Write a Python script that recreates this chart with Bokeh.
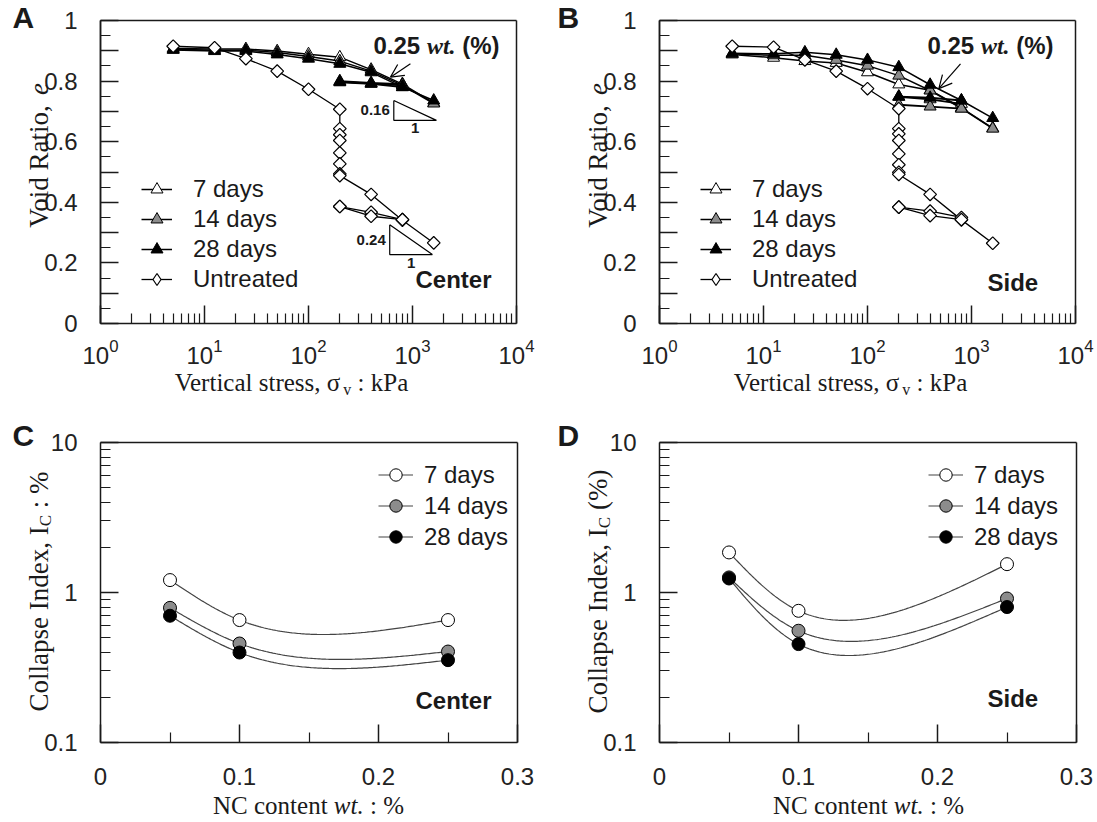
import math
import numpy as np
from bokeh.plotting import figure
from bokeh.models import (FixedTicker, Legend, LegendItem, Label, Arrow, OpenHead,
                          CustomJSTickFormatter, LinearAxis)
from bokeh.layouts import row, column
from bokeh.embed import file_html
from bokeh.resources import INLINE

# ---------------- data ----------------
stress = [5, 12.5, 25, 50, 100, 200, 400, 800, 1600]
stress_soaked = [200, 400, 800]
untreated_stress = [5, 12.5, 25, 50, 100, 200, 200, 200, 200, 200, 200, 200, 200, 400, 800, 1600]
untreated_stress_b = [200, 400, 800]

center_untreated = [0.915, 0.910, 0.874, 0.833, 0.773, 0.707, 0.643, 0.623, 0.604, 0.563,
                    0.527, 0.494, 0.488, 0.426, 0.341, 0.266]
center_untreated_b1 = [0.386, 0.367, 0.343]
center_untreated_b2 = [0.386, 0.354, 0.343]
center_7d = [0.908, 0.906, 0.906, 0.899, 0.889, 0.879, 0.838, 0.790, 0.728]
center_7d_soaked = [0.800, 0.794, 0.790]
center_14d = [0.905, 0.902, 0.902, 0.894, 0.881, 0.866, 0.833, 0.786, 0.726]
center_14d_soaked = [0.798, 0.792, 0.786]
center_28d = [0.903, 0.899, 0.899, 0.888, 0.874, 0.857, 0.829, 0.780, 0.736]
center_28d_soaked = [0.796, 0.791, 0.780]

side_untreated = [0.915, 0.912, 0.870, 0.833, 0.775, 0.709, 0.643, 0.626, 0.604, 0.560,
                  0.524, 0.499, 0.492, 0.426, 0.342, 0.265]
side_untreated_b1 = [0.384, 0.371, 0.350]
side_untreated_b2 = [0.384, 0.356, 0.343]
side_7d = [0.888, 0.877, 0.866, 0.860, 0.829, 0.789, 0.770, 0.712, 0.645]
side_7d_soaked = [0.748, 0.740, 0.725]
side_14d = [0.890, 0.885, 0.885, 0.870, 0.851, 0.818, 0.769, 0.710, 0.643]
side_14d_soaked = [0.722, 0.716, 0.709]
side_28d = [0.892, 0.890, 0.895, 0.887, 0.870, 0.846, 0.788, 0.736, 0.678]
side_28d_soaked = [0.749, 0.745, 0.736]

nc_content = [0.05, 0.10, 0.25]
ic_center_7d = [1.21, 0.655, 0.655]
ic_center_14d = [0.79, 0.457, 0.404]
ic_center_28d = [0.70, 0.398, 0.354]
ic_side_7d = [1.85, 0.755, 1.545]
ic_side_14d = [1.26, 0.556, 0.912]
ic_side_28d = [1.24, 0.453, 0.80]

slope_values = [0.16, 0.24]
series_labels = ["7 days", "14 days", "28 days"]
x_ticks_log = [1, 10, 100, 1000, 10000]
x_ticks_nc = [0, 0.1, 0.2, 0.3]

# ---------------- styling helpers ----------------
SANS = "Liberation Sans"
SERIF = "Liberation Serif"
INK = "#1a1a1a"
FILLS = ["white", "#8c8c8c", "black"]

TIMES = {' ': 0.25, 'V': 0.722, 'o': 0.5, 'i': 0.278, 'd': 0.5, 'R': 0.667, 'a': 0.444,
         't': 0.278, ',': 0.25, 'e': 0.444, 'r': 0.333, 'c': 0.444, 'l': 0.278, 's': 0.389,
         'σ': 0.55, 'v': 0.5, ':': 0.278, 'k': 0.5, 'P': 0.556, 'C': 0.667, 'p': 0.5,
         'I': 0.333, 'n': 0.5, 'x': 0.5, '%': 0.833, '(': 0.333, ')': 0.333, 'N': 0.722,
         'w': 0.667, '.': 0.25}
ARIALB = {'0': 0.556, '1': 0.556, '2': 0.556, '5': 0.556, '.': 0.278, ' ': 0.278,
          '(': 0.333, '%': 0.889, ')': 0.333}


def tw(text, size, table):
    return sum(table.get(ch, 0.5) for ch in text) * size


def lab(p, x, y, text, size, font=SANS, style="normal", align="left", angle=0.0, color=INK):
    # anchor = visual middle of the text line
    p.add_layout(Label(x=x, y=y, x_units="screen", y_units="screen", text=text,
                       text_font=font, text_font_size=f"{size:.1f}px",
                       text_font_style=style, text_align=align,
                       text_baseline="middle", angle=angle, text_color=color))


def compose(p, x, y, parts, vertical=False, center=True):
    # parts: (text, font, style, size, shift_down, width_table)
    widths = [tw(t, s, tb) for (t, f, st, s, d, tb) in parts]
    pos = -sum(widths) / 2 if center else 0.0
    for (t, f, st, s, d, tb), w in zip(parts, widths):
        stripped = t.lstrip(" ")
        lead = tw(t[:len(t) - len(stripped)], s, tb)
        if vertical:
            lab(p, x + d, y + pos + lead, stripped.rstrip(" "), s, f, st, angle=math.pi / 2)
        else:
            lab(p, x + pos + lead, y - d, stripped.rstrip(" "), s, f, st)
        pos += w


def span_log(v0, v1, p0, p1, total):
    a, b = math.log10(v0), math.log10(v1)
    k = (b - a) / (p1 - p0)
    return 10 ** (a - p0 * k), 10 ** (b + (total - p1) * k)


def span_lin(v0, v1, p0, p1, total):
    k = (v1 - v0) / (p1 - p0)
    return v0 - p0 * k, v1 + (total - p1) * k


def plain_axis(**kw):
    return LinearAxis(major_label_text_color=None, major_tick_out=0, minor_tick_in=0,
                      minor_tick_out=0, axis_line_color=INK, axis_line_width=1.5,
                      major_tick_line_color=INK, major_tick_line_width=1.5, **kw)


def make_base(W, H, box, xspan, yspan, xlog, ylog):
    L, R, T, Bt = box
    xr = (span_log if xlog else span_lin)(xspan[0], xspan[1], L, R, W)
    yr = (span_log if ylog else span_lin)(yspan[0], yspan[1], H - Bt, H - T, H)
    p = figure(width=W, height=H, x_axis_type="log" if xlog else "linear",
               y_axis_type="log" if ylog else "linear", x_range=xr, y_range=yr,
               min_border=0, title=None, output_backend="svg", toolbar_location=None)
    p.xgrid.visible = False
    p.ygrid.visible = False
    p.outline_line_color = None
    p.background_fill_color = "white"
    p.border_fill_color = "white"
    xa, ya = p.below[0], p.left[0]
    xa.fixed_location = yspan[0]
    xa.bounds = tuple(xspan)
    ya.fixed_location = xspan[0]
    ya.bounds = tuple(yspan)
    for ax in (xa, ya):
        ax.axis_line_color = INK
        ax.axis_line_width = 1.5
        ax.major_tick_in = 18
        ax.major_tick_out = 0
        ax.minor_tick_in = 10
        ax.minor_tick_out = 0
        ax.major_tick_line_color = INK
        ax.minor_tick_line_color = INK
        ax.major_tick_line_width = 1.5
        ax.minor_tick_line_width = 1.2
        ax.major_label_text_font = SANS
        ax.major_label_text_font_size = "24px"
        ax.major_label_text_color = "#222222"
    ya.major_label_standoff = 23
    xa.major_label_standoff = 15
    p.add_layout(plain_axis(fixed_location=yspan[1], bounds=tuple(xspan),
                            ticker=FixedTicker(ticks=[]), major_tick_in=0), "above")
    p.add_layout(plain_axis(fixed_location=xspan[1], bounds=tuple(yspan),
                            ticker=FixedTicker(ticks=[]), major_tick_in=0), "right")
    return p, xa, ya


def natural_spline_eval(ts, vs, tt):
    ts = np.asarray(ts, float)
    vs = np.asarray(vs, float)
    m = len(ts)
    h = np.diff(ts)
    A = np.zeros((m, m))
    r = np.zeros(m)
    A[0, 0] = A[-1, -1] = 1.0
    for i in range(1, m - 1):
        A[i, i - 1] = h[i - 1]
        A[i, i] = 2 * (h[i - 1] + h[i])
        A[i, i + 1] = h[i]
        r[i] = 6 * ((vs[i + 1] - vs[i]) / h[i] - (vs[i] - vs[i - 1]) / h[i - 1])
    M = np.linalg.solve(A, r)
    out = np.empty(len(tt))
    for k, t in enumerate(tt):
        i = int(min(max(np.searchsorted(ts, t, side="right") - 1, 0), m - 2))
        hi = h[i]
        t1 = ts[i + 1] - t
        t0 = t - ts[i]
        out[k] = (M[i] * t1 ** 3 / (6 * hi) + M[i + 1] * t0 ** 3 / (6 * hi)
                  + (vs[i] / hi - M[i] * hi / 6) * t1 + (vs[i + 1] / hi - M[i + 1] * hi / 6) * t0)
    return out


def smooth_curve(xs, ys, px_per_x, px_per_decade, n=160):
    # chord-length parametric natural spline, in the plot's pixel proportions
    X = np.asarray(xs, float) * px_per_x
    Y = np.log10(np.asarray(ys, float)) * px_per_decade
    t = np.concatenate([[0.0], np.cumsum(np.hypot(np.diff(X), np.diff(Y)))])
    tt = np.linspace(0, t[-1], n)
    return natural_spline_eval(t, X, tt) / px_per_x, 10 ** (natural_spline_eval(t, Y, tt) / px_per_decade)


# ---------------- e - log sigma panels ----------------
def make_ev(W, box, letter, where, untreated, ub1, ub2, treated, soaked, slopes, arrow, geo):
    H = 410
    p, xa, ya = make_base(W, H, box, (1, 1e4), (0, 1), True, False)
    xa.ticker = FixedTicker(
        ticks=x_ticks_log,
        minor_ticks=[m * 10 ** k for k in range(4) for m in range(2, 10)])
    ya.ticker = FixedTicker(ticks=[0, 0.2, 0.4, 0.6, 0.8, 1.0],
                            minor_ticks=[i / 20 for i in range(1, 20)])
    ya.formatter = CustomJSTickFormatter(
        code="return tick == 0 ? '0' : (tick == 1 ? '1' : tick.toFixed(1));")
    p.add_layout(plain_axis(fixed_location=1, bounds=(0, 1), major_tick_in=18,
                            ticker=FixedTicker(ticks=[0.1, 0.3, 0.5, 0.7, 0.9])), "left")

    items = []
    for lbl, e_up, e_soak, fill in zip(series_labels, treated, soaked, FILLS):
        l1 = p.line(stress, e_up, line_color="black", line_width=1.5)
        p.line(stress_soaked, e_soak, line_color="black", line_width=1.8)
        s1 = p.scatter(stress, e_up, marker="triangle", size=12, fill_color=fill,
                       line_color="black", line_width=1)
        p.scatter(stress_soaked, e_soak, marker="triangle", size=12, fill_color=fill,
                  line_color="black", line_width=1)
        items.append(LegendItem(label=lbl, renderers=[l1, s1]))

    lu = p.line(untreated_stress, untreated, line_color="black", line_width=1.3)
    p.line(untreated_stress_b, ub1, line_color="black", line_width=1.3)
    p.line(untreated_stress_b, ub2, line_color="black", line_width=1.3)
    for xs_, es_ in ((untreated_stress, untreated), (untreated_stress_b, ub1),
                     (untreated_stress_b, ub2)):
        p.scatter(xs_, es_, marker="square", angle=math.pi / 4, size=9,
                  fill_color="white", line_color="black", line_width=1.2)
    key = p.scatter(untreated_stress, untreated, marker="diamond", size=15,
                    fill_color="white", line_color="black", line_width=1.2, visible=False)
    items.append(LegendItem(label="Untreated", renderers=[lu, key]))

    leg = Legend(items=items, location=(geo["leg_x"], 116), border_line_color=None,
                 background_fill_alpha=0, label_text_font=SANS, label_text_font_size="24px",
                 label_text_color=INK, glyph_width=31, glyph_height=30, label_height=30,
                 label_standoff=21, spacing=0, padding=0, margin=0)
    p.add_layout(leg)

    if slopes:
        anchors = [(661, 0.736), (604, 0.326)]
        run = 0.41
        for (x0, e0), s in zip(anchors, slope_values):
            x1 = x0 * 10 ** run
            e1 = e0 - s * run
            p.line([x0, x0, x1, x0], [e0, e1, e1, e0], line_color="black", line_width=1.2)
            p.add_layout(Label(x=x0, y=(e0 + e1) / 2, text=f"{s:.2f}", text_font=SANS,
                               text_font_style="bold", text_font_size="15px",
                               text_align="right", text_baseline="middle", x_offset=-4,
                               text_color=INK))
            p.add_layout(Label(x=math.sqrt(x0 * x1), y=e1, text="1", text_font=SANS,
                               text_font_style="bold", text_font_size="15px",
                               text_align="center", text_baseline="top", y_offset=-3,
                               text_color=INK))

    (xs, ys), (xe, ye) = arrow
    p.add_layout(Arrow(end=OpenHead(size=13, line_width=1.2, line_color="black"),
                       x_start=xs, y_start=ys, x_end=xe, y_end=ye,
                       line_color="black", line_width=1.2))

    compose(p, geo["wt_x"], 365, [("0.25 ", SANS, "bold", 24, 0, ARIALB),
                                  ("wt.", SERIF, "bold italic", 24, 0, TIMES),
                                  (" (%)", SANS, "bold", 24, 0, ARIALB)], center=False)
    lab(p, geo["loc_x"], geo["loc_y"], where, 24, SANS, "bold")
    lab(p, geo["letter_x"], 393, letter, 30, SANS, "bold")
    compose(p, geo["xl_x"], 28, [("Vertical stress, σ", SERIF, "normal", 25, 0, TIMES),
                                 ("v", SERIF, "normal", 16, 7, TIMES),
                                 (" : kPa", SERIF, "normal", 25, 0, TIMES)])
    compose(p, geo["yl_x"], 255, [("Void Ratio, ", SERIF, "normal", 27, 0, TIMES),
                                  ("e", SERIF, "italic", 27, 0, TIMES)], vertical=True)
    return p


# ---------------- collapse index panels ----------------
def make_ic(W, box, letter, where, ic_series, ylabel_tail, geo):
    H = 410
    L, R, T, Bt = box
    p, xa, ya = make_base(W, H, box, (0, 0.3), (0.1, 10), False, True)
    xa.ticker = FixedTicker(ticks=x_ticks_nc, minor_ticks=[0.05, 0.15, 0.25])
    xa.formatter = CustomJSTickFormatter(code="return tick == 0 ? '0' : tick.toFixed(1);")
    xa.major_label_standoff = 25
    ya.ticker = FixedTicker(
        ticks=[0.1, 1, 10],
        minor_ticks=[m * 10 ** k for k in (-1, 0) for m in range(2, 10)])
    ya.formatter = CustomJSTickFormatter(
        code="return tick >= 1 ? tick.toFixed(0) : tick.toFixed(1);")

    curves = []
    for ic in ic_series:
        cx, cy = smooth_curve(nc_content, ic, (R - L) / 0.3, (Bt - T) / 2.0)
        curves.append(p.line(cx, cy, line_color="#444444", line_width=1.2))
    legend_items = []
    for lbl, ic, fill, l in zip(series_labels, ic_series, FILLS, curves):
        s = p.scatter(nc_content, ic, marker="circle", size=13, fill_color=fill,
                      line_color="black", line_width=1)
        legend_items.append(LegendItem(label=lbl, renderers=[l, s]))

    leg = Legend(items=legend_items, location=(geo["leg_x"], 268), border_line_color=None,
                 background_fill_alpha=0, label_text_font=SANS, label_text_font_size="24px",
                 label_text_color=INK, glyph_width=35, glyph_height=31, label_height=31,
                 label_standoff=11, spacing=0, padding=0, margin=0)
    p.add_layout(leg)

    lab(p, geo["loc_x"], geo["loc_y"], where, 24, SANS, "bold")
    lab(p, geo["letter_x"], 385, letter, 30, SANS, "bold")
    compose(p, geo["xl_x"], 15, [("NC content ", SERIF, "normal", 25, 0, TIMES),
                                 ("wt.", SERIF, "italic", 25, 0, TIMES),
                                 (" : %", SERIF, "normal", 25, 0, TIMES)])
    compose(p, geo["yl_x"], 229, [("Collapse Index, I", SERIF, "normal", 27, 0, TIMES),
                                  ("C", SERIF, "normal", 17, 7, TIMES),
                                  (ylabel_tail, SERIF, "normal", 27, 0, TIMES)], vertical=True)
    return p


pA = make_ev(550, (100, 516, 20, 323), "A", "Center",
             center_untreated, center_untreated_b1, center_untreated_b2,
             [center_7d, center_14d, center_28d],
             [center_7d_soaked, center_14d_soaked, center_28d_soaked],
             True, ((955, 0.857), (614, 0.813)),
             dict(leg_x=141, wt_x=373, loc_x=415, loc_y=131, letter_x=12, xl_x=291, yl_x=38))
pB = make_ev(545, (109, 525, 20, 323), "B", "Side",
             side_untreated, side_untreated_b1, side_untreated_b2,
             [side_7d, side_14d, side_28d],
             [side_7d_soaked, side_14d_soaked, side_28d_soaked],
             False, ((784, 0.857), (485, 0.775)),
             dict(leg_x=150, wt_x=377, loc_x=437, loc_y=128, letter_x=7, xl_x=300, yl_x=47))
pC = make_ic(550, (100, 517, 32, 332), "C", "Center",
             [ic_center_7d, ic_center_14d, ic_center_28d], " : %",
             dict(leg_x=378, loc_x=415, loc_y=120, letter_x=12, xl_x=308, yl_x=38))
pD = make_ic(545, (109, 526, 32, 332), "D", "Side",
             [ic_side_7d, ic_side_14d, ic_side_28d], " (%)",
             dict(leg_x=378, loc_x=437, loc_y=122, letter_x=7, xl_x=318, yl_x=47))

layout = column(row(pA, pB), row(pC, pD))
open("out.html", "w").write(file_html(layout, INLINE))
